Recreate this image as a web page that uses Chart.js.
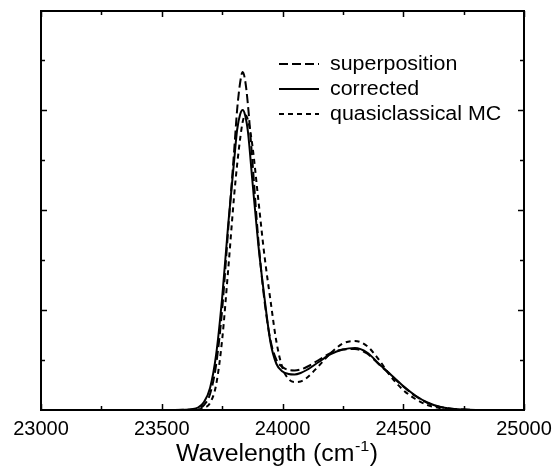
<!DOCTYPE html>
<html>
<head>
<meta charset="utf-8">
<script src="https://cdn.jsdelivr.net/npm/chart.js@4.4.0/dist/chart.umd.min.js"></script>
<style>
  html, body { margin: 0; padding: 0; background: #fff; }
  #wrap { width: 557px; height: 468px; }
</style>
</head>
<body>
<div id="wrap"><canvas id="c" width="557" height="468"></canvas></div>
<script>
// Wavenumber grid (cm^-1)
const wavenumbers = [23500, 23600, 23625, 23650, 23675, 23700, 23725, 23750, 23775, 23800, 23812, 23825, 23835, 23845, 23857, 23875, 23900, 23925, 23950, 23975, 24000, 24025, 24050, 24075, 24100, 24150, 24200, 24250, 24300, 24350, 24400, 24450, 24500, 24550, 24600, 24650, 24700, 24750, 24800, 24900];

const superposition = [0, 0.002, 0.005, 0.015, 0.05, 0.16, 0.45, 1.0, 1.8, 2.6, 3.0, 3.28, 3.38, 3.3, 3.05, 2.5, 1.7, 1.1, 0.7, 0.5, 0.43, 0.40, 0.395, 0.405, 0.43, 0.50, 0.57, 0.605, 0.61, 0.565, 0.455, 0.345, 0.235, 0.14, 0.072, 0.032, 0.012, 0.004, 0.001, 0];

const corrected = [0, 0.003, 0.008, 0.025, 0.08, 0.22, 0.55, 1.12, 1.85, 2.5, 2.8, 2.96, 3.0, 2.95, 2.78, 2.3, 1.65, 1.13, 0.68, 0.46, 0.385, 0.36, 0.355, 0.37, 0.40, 0.48, 0.56, 0.605, 0.62, 0.575, 0.46, 0.35, 0.24, 0.145, 0.075, 0.033, 0.013, 0.004, 0.001, 0];

const quasiclassical = [0, 0, 0.002, 0.006, 0.02, 0.07, 0.25, 0.7, 1.4, 2.15, 2.45, 2.72, 2.88, 2.95, 2.9, 2.65, 2.1, 1.55, 1.1, 0.68, 0.42, 0.31, 0.28, 0.285, 0.32, 0.44, 0.57, 0.665, 0.69, 0.64, 0.50, 0.33, 0.20, 0.11, 0.05, 0.02, 0.006, 0.002, 0, 0];

const seriesNames = ["superposition", "corrected", "quasiclassical MC"];
const xTickValues = [23000, 23500, 24000, 24500, 25000];
const xMin = 23000, xMax = 25000;
const yMin = 0, yMax = 3.99;

function pts(ys) { return wavenumbers.map((x, i) => ({ x: x, y: ys[i] })); }

const FONT = "'Liberation Sans', Arial, Helvetica, sans-serif";

function stretchedText(ctx, text, x, y, sx) {
  ctx.save();
  ctx.translate(x, y);
  ctx.scale(sx, 1);
  ctx.fillText(text, 0, 0);
  ctx.restore();
}

const frameAndTicks = {
  id: 'frameAndTicks',
  afterDatasetsDraw(chart) {
    const ctx = chart.ctx;
    const a = chart.chartArea;
    const xs = chart.scales.x, ys = chart.scales.y;
    ctx.save();
    ctx.strokeStyle = '#000';
    ctx.lineWidth = 1.5;
    ctx.beginPath();
    for (let v = xMin; v <= xMax; v += 250) {
      const px = Math.round(xs.getPixelForValue(v)) + 0.5;
      const len = (v % 500 === 0) ? 6 : 4;
      ctx.moveTo(px, a.bottom); ctx.lineTo(px, a.bottom - len);
      ctx.moveTo(px, a.top); ctx.lineTo(px, a.top + len);
    }
    for (let v = 0.5; v < yMax; v += 0.5) {
      const py = Math.round(ys.getPixelForValue(v)) + 0.5;
      const len = (Math.abs(v - Math.round(v)) < 1e-6) ? 6 : 4;
      ctx.moveTo(a.left, py); ctx.lineTo(a.left + len, py);
      ctx.moveTo(a.right, py); ctx.lineTo(a.right - len, py);
    }
    ctx.stroke();
    ctx.lineWidth = 2;
    ctx.strokeRect(a.left, a.top, a.right - a.left, a.bottom - a.top);

    // legend
    const rows = [64, 89, 114];
    ctx.fillStyle = '#000';
    chart.data.datasets.forEach((ds, i) => {
      const y = rows[i];
      ctx.beginPath();
      ctx.setLineDash(ds.borderDash || []);
      ctx.lineWidth = ds.borderWidth;
      ctx.moveTo(279, y); ctx.lineTo(319, y);
      ctx.stroke();
      ctx.setLineDash([]);
      ctx.font = "20px " + FONT;
      ctx.textBaseline = 'alphabetic';
      ctx.textAlign = 'left';
      stretchedText(ctx, ds.label, 330, y + 6, 1.07);
    });

    // axis title with superscript
    const sx = 1.08;
    const main = "Wavelength (cm";
    const sup = "-1";
    const close = ")";
    ctx.font = "23px " + FONT;
    const w1 = ctx.measureText(main).width * sx;
    const w3 = ctx.measureText(close).width * sx;
    ctx.font = "15px " + FONT;
    const w2 = ctx.measureText(sup).width * sx;
    const total = w1 + w2 + w3 + 1;
    const x0 = 277 - total / 2;
    const base = 461;
    ctx.font = "23px " + FONT;
    stretchedText(ctx, main, x0, base, sx);
    ctx.font = "15px " + FONT;
    stretchedText(ctx, sup, x0 + w1 + 0.5, base - 10, sx);
    ctx.font = "23px " + FONT;
    stretchedText(ctx, close, x0 + w1 + w2 + 1, base, sx);
    ctx.restore();
  }
};

new Chart(document.getElementById('c'), {
  type: 'line',
  data: {
    datasets: [
      { label: seriesNames[0], data: pts(superposition), borderColor: '#000', borderWidth: 2, borderDash: [9, 4], pointRadius: 0, fill: false, cubicInterpolationMode: 'monotone' },
      { label: seriesNames[1], data: pts(corrected), borderColor: '#000', borderWidth: 2, borderDash: [], pointRadius: 0, fill: false, cubicInterpolationMode: 'monotone' },
      { label: seriesNames[2], data: pts(quasiclassical), borderColor: '#000', borderWidth: 2, borderDash: [5, 4], pointRadius: 0, fill: false, cubicInterpolationMode: 'monotone' }
    ]
  },
  options: {
    responsive: false,
    animation: false,
    devicePixelRatio: 1,
    layout: { padding: { left: 41, right: 33, top: 11, bottom: 0 } },
    plugins: { legend: { display: false }, tooltip: { enabled: false }, title: { display: false } },
    scales: {
      x: {
        type: 'linear', min: xMin, max: xMax,
        afterBuildTicks: (s) => { s.ticks = xTickValues.map(v => ({ value: v })); },
        afterFit: (s) => { s.height = 58; s.paddingLeft = 0; s.paddingRight = 0; },
        grid: { display: false },
        border: { display: false },
        ticks: { color: '#000', font: { family: FONT, size: 20 }, padding: -1, maxRotation: 0, autoSkip: false, callback: (v) => String(v) },
        title: { display: false }
      },
      y: {
        type: 'linear', min: yMin, max: yMax, display: false
      }
    }
  },
  plugins: [frameAndTicks]
});
</script>
</body>
</html>
